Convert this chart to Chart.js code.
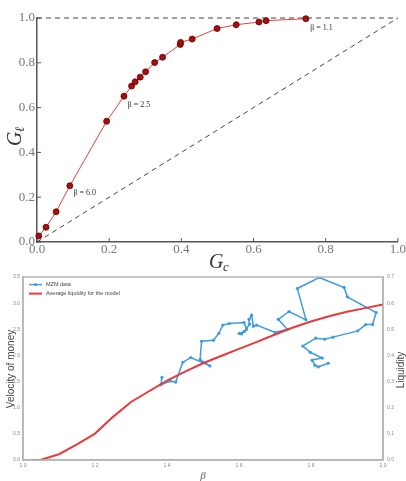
<!DOCTYPE html>
<html lang="en">
<head>
  <meta charset="UTF-8" />
  <title>Lorenz-type curve and liquidity vs beta</title>
  <script src="https://cdn.jsdelivr.net/npm/chart.js@4.4.0/dist/chart.umd.min.js"></script>
  <style>
    body { margin: 0; background: #fff; }
    .wrap { position: relative; width: 406px; height: 481px; }
    #topChart { position: absolute; left: 0; top: 0; }
    #bottomChart { position: absolute; left: 0; top: 270px; }
  </style>
</head>
<body>
  <div class="wrap">
    <canvas id="topChart" width="406" height="280"></canvas>
    <canvas id="bottomChart" width="406" height="211"></canvas>
  </div>

  <script>
    // top panel: G_l against G_c
    const gc = [0.005, 0.025, 0.053, 0.091, 0.193, 0.241, 0.262, 0.272, 0.286, 0.301,
                0.326, 0.348, 0.397, 0.398, 0.430, 0.499, 0.552, 0.615, 0.635, 0.745];
    const gl = [0.027, 0.066, 0.135, 0.251, 0.539, 0.651, 0.696, 0.715, 0.736, 0.760,
                0.801, 0.825, 0.882, 0.891, 0.906, 0.953, 0.970, 0.982, 0.988, 0.997];
    const gTicks = [0, 0.2, 0.4, 0.6, 0.8, 1.0];
    const betaNotes = ['\u03b2 = 1.1', '\u03b2 = 2.5', '\u03b2 = 6.0'];
    const noteGc = [0.757, 0.251, 0.101];
    const noteGl = [0.957, 0.612, 0.218];

    // bottom panel: MZM velocity and model liquidity against beta
    const betaObs = [1.386, 1.383, 1.409, 1.424, 1.444, 1.466, 1.519, 1.492, 1.496, 1.529,
                     1.544, 1.555, 1.573, 1.614, 1.621, 1.607, 1.601, 1.615, 1.630, 1.628,
                     1.635, 1.640, 1.649, 1.700, 1.734, 1.709, 1.739, 1.786, 1.762, 1.823,
                     1.892, 1.901, 1.981, 1.971, 1.952, 1.930, 1.861, 1.838, 1.813, 1.777,
                     1.798, 1.831, 1.803, 1.811, 1.820, 1.848];
    const velocity = [1.58, 1.44, 1.51, 1.49, 1.87, 1.96, 1.80, 1.92, 2.27, 2.29,
                      2.42, 2.58, 2.61, 2.63, 2.50, 2.41, 2.42, 2.46, 2.60, 2.69,
                      2.77, 2.56, 2.58, 2.44, 2.50, 2.69, 2.84, 2.68, 3.28, 3.49,
                      3.30, 3.12, 2.82, 2.59, 2.59, 2.47, 2.35, 2.31, 2.33, 2.18,
                      2.06, 1.95, 1.91, 1.81, 1.78, 1.85];
    const betaModel = [1.025, 1.05, 1.1, 1.15, 1.2, 1.25, 1.3, 1.35, 1.4, 1.45, 1.5,
                       1.55, 1.6, 1.65, 1.7, 1.75, 1.8, 1.85, 1.9, 1.95, 2.0];
    const liquidity = [0.0, 0.001, 0.022, 0.06, 0.101, 0.165, 0.222, 0.263, 0.304, 0.338, 0.37,
                       0.398, 0.425, 0.452, 0.48, 0.507, 0.53, 0.55, 0.567, 0.581, 0.595];
    const betaTicks = [1.0, 1.2, 1.4, 1.6, 1.8, 2.0];
    const velocityTicks = [0, 0.5, 1.0, 1.5, 2.0, 2.5, 3.0, 3.5];
    const liquidityTicks = [0, 0.1, 0.2, 0.3, 0.4, 0.5, 0.6, 0.7];

    const serif = "'Liberation Serif', 'DejaVu Serif', serif";
    const sans = "'Liberation Sans', Arial, sans-serif";
    const noGrid = { display: false, drawTicks: false };

    function fixedTicks(list) {
      return function(scale) {
        scale.ticks = list.map(v => ({ value: v }));
      };
    }

    const topDecor = {
      id: 'topDecor',
      afterDraw(chart) {
        const c = chart.ctx;
        const x = chart.scales.x, y = chart.scales.y;
        c.save();
        // inward tick marks
        c.strokeStyle = '#555';
        c.lineWidth = 1;
        gTicks.forEach(v => {
          const px = x.getPixelForValue(v);
          c.beginPath(); c.moveTo(px, y.bottom); c.lineTo(px, y.bottom - 4); c.stroke();
          const py = y.getPixelForValue(v);
          c.beginPath(); c.moveTo(x.left, py); c.lineTo(x.left + 4, py); c.stroke();
        });
        // beta annotations
        c.fillStyle = '#333';
        c.font = "8px " + serif;
        c.textBaseline = 'middle';
        betaNotes.forEach((t, i) => {
          c.fillText(t, x.getPixelForValue(noteGc[i]), y.getPixelForValue(noteGl[i]));
        });
        // axis titles
        c.fillStyle = '#333';
        c.textBaseline = 'alphabetic';
        c.font = "italic 20px " + serif;
        c.fillText('G', 209, 268);
        c.font = "italic 13px " + serif;
        c.fillText('c', 223, 271);
        c.translate(21, 146);
        c.rotate(-Math.PI / 2);
        c.font = "italic 20px " + serif;
        c.fillText('G', 0, 0);
        c.font = "italic 13px " + serif;
        c.fillText('\u2113', 14, 3);
        c.restore();
      }
    };

    new Chart(document.getElementById('topChart'), {
      type: 'scatter',
      data: {
        datasets: [{
          data: gc.map((v, i) => ({ x: v, y: gl[i] })),
          showLine: true,
          borderColor: '#e8413c',
          borderWidth: 1,
          pointRadius: 3,
          pointBackgroundColor: '#a90d0d',
          pointBorderColor: '#5c0000',
          pointBorderWidth: 0.8,
          clip: false
        }, {
          data: [{ x: 0, y: 0 }, { x: 1, y: 1 }],
          showLine: true,
          borderColor: '#444',
          borderWidth: 1,
          borderDash: [5, 4],
          pointRadius: 0
        }, {
          data: [{ x: 0, y: 1 }, { x: 1, y: 1 }],
          showLine: true,
          borderColor: '#444',
          borderWidth: 1,
          borderDash: [5, 4],
          pointRadius: 0,
          clip: false
        }]
      },
      options: {
        responsive: false,
        animation: false,
        layout: { padding: { top: 18, right: 7, left: 0, bottom: 0 } },
        plugins: { legend: { display: false }, tooltip: { enabled: false } },
        scales: {
          x: {
            type: 'linear', min: 0, max: 1,
            afterBuildTicks: fixedTicks(gTicks),
            afterFit(s) { s.height = 38; },
            grid: noGrid,
            border: { color: '#555', width: 1.5 },
            ticks: { padding: 0, color: '#777', font: { family: serif, size: 13 },
                     callback: v => v.toFixed(1), maxRotation: 0 }
          },
          y: {
            min: 0, max: 1,
            afterBuildTicks: fixedTicks(gTicks),
            afterFit(s) { s.width = 37; },
            grid: noGrid,
            border: { color: '#555', width: 1.5 },
            ticks: { padding: 2, color: '#777', font: { family: serif, size: 13 },
                     callback: v => v.toFixed(1) }
          }
        }
      },
      plugins: [topDecor]
    });

    const bottomDecor = {
      id: 'bottomDecor',
      afterDraw(chart) {
        const c = chart.ctx;
        const a = chart.chartArea;
        c.save();
        // frame
        c.strokeStyle = '#b5b5b5';
        c.lineWidth = 1.5;
        c.strokeRect(a.left, a.top, a.right - a.left, a.bottom - a.top);
        // legend
        const items = [
          { label: 'MZM data', color: '#3d9be0', width: 1.4, dot: true },
          { label: 'Average liquidity for the model', color: '#e8393c', width: 2, dot: false }
        ];
        c.font = "5.5px " + sans;
        c.textBaseline = 'middle';
        items.forEach((it, i) => {
          const yy = a.top + 7.6 + i * 9;
          c.strokeStyle = it.color;
          c.lineWidth = it.width;
          c.beginPath(); c.moveTo(a.left + 6, yy); c.lineTo(a.left + 19, yy); c.stroke();
          if (it.dot) {
            c.fillStyle = it.color;
            c.beginPath(); c.arc(a.left + 12.5, yy, 1.5, 0, Math.PI * 2); c.fill();
          }
          c.fillStyle = '#444';
          c.fillText(it.label, a.left + 23, yy);
        });
        // axis titles
        c.fillStyle = '#444';
        c.font = "10px " + sans;
        c.textAlign = 'center';
        c.save();
        c.translate(11, 99);
        c.rotate(-Math.PI / 2);
        c.fillText('Velocity of money', 0, 0);
        c.restore();
        c.save();
        c.translate(401, 100);
        c.rotate(-Math.PI / 2);
        c.fillText('Liquidity', 0, 0);
        c.restore();
        c.font = "italic 11px " + serif;
        c.fillStyle = '#666';
        c.fillText('\u03b2', 203, 206);
        c.restore();
      }
    };

    const smallTicks = { color: '#888', font: { family: sans, size: 5 } };

    new Chart(document.getElementById('bottomChart'), {
      type: 'scatter',
      data: {
        datasets: [{
          label: 'Average liquidity for the model',
          data: betaModel.map((v, i) => ({ x: v, y: liquidity[i] })),
          yAxisID: 'y1',
          showLine: true,
          borderColor: '#e8393c',
          borderWidth: 2,
          pointRadius: 0
        }, {
          label: 'MZM data',
          data: betaObs.map((v, i) => ({ x: v, y: velocity[i] })),
          yAxisID: 'y',
          showLine: true,
          borderColor: '#3d9be0',
          borderWidth: 1.5,
          pointRadius: 1.6,
          pointBackgroundColor: '#3d9be0',
          pointBorderWidth: 0
        }]
      },
      options: {
        responsive: false,
        animation: false,
        layout: { padding: { top: 6, right: 0, left: 0, bottom: 0 } },
        plugins: { legend: { display: false }, tooltip: { enabled: false } },
        scales: {
          x: {
            type: 'linear', min: 1, max: 2,
            afterBuildTicks: fixedTicks(betaTicks),
            afterFit(s) { s.height = 21; },
            grid: noGrid,
            border: { color: '#b5b5b5', width: 1.5 },
            ticks: Object.assign({ padding: 3, maxRotation: 0, callback: v => v.toFixed(1) }, smallTicks)
          },
          y: {
            position: 'left', min: 0, max: 3.5,
            afterBuildTicks: fixedTicks(velocityTicks),
            afterFit(s) { s.width = 23; },
            grid: noGrid,
            border: { color: '#b5b5b5', width: 1.5 },
            ticks: Object.assign({ padding: 3, callback: v => v.toFixed(1) }, smallTicks)
          },
          y1: {
            position: 'right', min: 0, max: 0.7,
            afterBuildTicks: fixedTicks(liquidityTicks),
            afterFit(s) { s.width = 23; },
            grid: noGrid,
            border: { color: '#b5b5b5', width: 1.5 },
            ticks: Object.assign({ padding: 4, callback: v => v.toFixed(1) }, smallTicks)
          }
        }
      },
      plugins: [bottomDecor]
    });
  </script>
</body>
</html>
